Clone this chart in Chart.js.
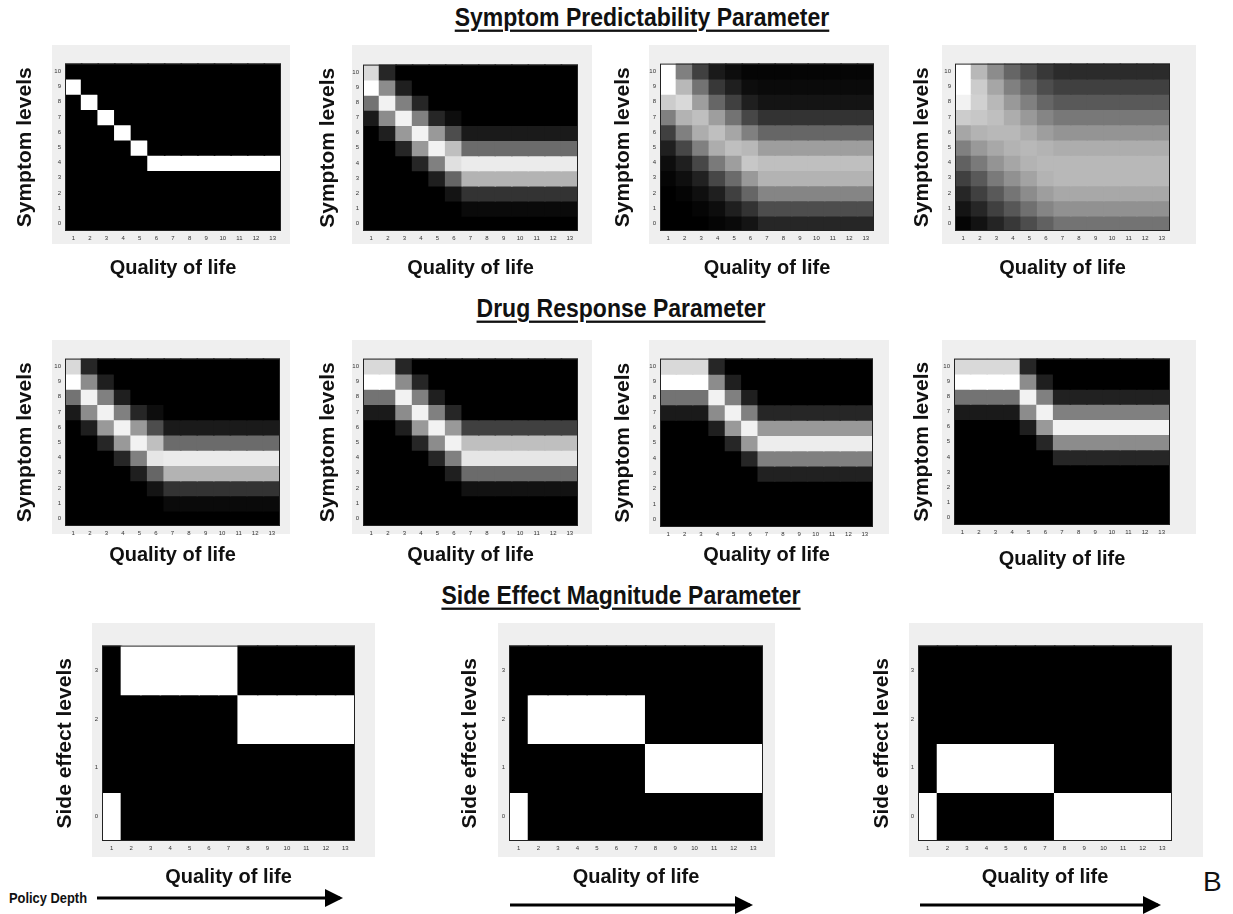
<!DOCTYPE html>
<html lang="en">
<head>
  <meta charset="UTF-8">
  <title>Policy depth heatmaps</title>
  <script src="https://cdn.jsdelivr.net/npm/chart.js"></script>
  <style>
    body { margin: 0; background: #fff; }
    #page { position: relative; width: 1233px; height: 914px; overflow: hidden; font-family: 'Liberation Sans', Arial, sans-serif; }
    .bg { position: absolute; background: #efefef; }
    .box { position: absolute; }
    .head { position: absolute; font-weight: bold; font-size: 23px; text-decoration: underline; text-decoration-thickness: 2px; text-underline-offset: 3px; transform: translateX(-50%) scaleY(1.15); white-space: nowrap; color: #111; }
    .note { position: absolute; font-weight: bold; font-size: 14px; color: #111; transform: scaleX(0.92) scaleY(1.1); transform-origin: left center; }
    .big { position: absolute; font-size: 28px; color: #111; }
    svg { position: absolute; left: 0; top: 0; }
  </style>
</head>
<body>
<div id="page">
  <div class="head" style="left:642px; top:4px;">Symptom Predictability Parameter</div>
  <div class="head" style="left:621px; top:295px;">Drug Response Parameter</div>
  <div class="head" style="left:621px; top:582px;">Side Effect Magnitude Parameter</div>
  <div class="note" style="left:9px; top:889px;">Policy Depth</div>
  <div class="big" style="left:1203px; top:866px;">B</div>
  <svg width="1233" height="914">
    <defs>
      <marker id="head" markerWidth="6" markerHeight="6" refX="5" refY="3" orient="auto" markerUnits="strokeWidth">
        <path d="M0,0 L6,3 L0,6 z" fill="#000"/>
      </marker>
    </defs>
    <line x1="97" y1="898" x2="340" y2="898" stroke="#000" stroke-width="3" marker-end="url(#head)"/>
    <line x1="510" y1="905" x2="750" y2="905" stroke="#000" stroke-width="3" marker-end="url(#head)"/>
    <line x1="920" y1="905" x2="1158" y2="905" stroke="#000" stroke-width="3" marker-end="url(#head)"/>
  </svg>
</div>

<script>
  // x categories and y levels
  const qolLabels = ['1', '2', '3', '4', '5', '6', '7', '8', '9', '10', '11', '12', '13'];
  const symptomLevels = [10, 9, 8, 7, 6, 5, 4, 3, 2, 1, 0];
  const sideLevels = [3, 2, 1, 0];

  // brightness (0 black .. 1 white), rows from top level down, 13 columns each
  const sp1 = [
    [0, 0, 0, 0, 0, 0, 0, 0, 0, 0, 0, 0, 0],
    [1, 0, 0, 0, 0, 0, 0, 0, 0, 0, 0, 0, 0],
    [0, 1, 0, 0, 0, 0, 0, 0, 0, 0, 0, 0, 0],
    [0, 0, 1, 0, 0, 0, 0, 0, 0, 0, 0, 0, 0],
    [0, 0, 0, 1, 0, 0, 0, 0, 0, 0, 0, 0, 0],
    [0, 0, 0, 0, 1, 0, 0, 0, 0, 0, 0, 0, 0],
    [0, 0, 0, 0, 0, 1, 1, 1, 1, 1, 1, 1, 1],
    [0, 0, 0, 0, 0, 0, 0, 0, 0, 0, 0, 0, 0],
    [0, 0, 0, 0, 0, 0, 0, 0, 0, 0, 0, 0, 0],
    [0, 0, 0, 0, 0, 0, 0, 0, 0, 0, 0, 0, 0],
    [0, 0, 0, 0, 0, 0, 0, 0, 0, 0, 0, 0, 0]
  ];
  const sp2 = [
    [.85, .15, 0, 0, 0, 0, 0, 0, 0, 0, 0, 0, 0],
    [1, .55, .12, 0, 0, 0, 0, 0, 0, 0, 0, 0, 0],
    [.45, .95, .5, .15, 0, 0, 0, 0, 0, 0, 0, 0, 0],
    [.1, .55, .95, .5, .15, .05, 0, 0, 0, 0, 0, 0, 0],
    [0, .12, .6, .95, .6, .3, .1, .1, .1, .1, .1, .1, .1],
    [0, 0, .15, .6, .95, .75, .42, .42, .42, .42, .42, .42, .42],
    [0, 0, 0, .15, .5, .88, .92, .92, .92, .92, .92, .92, .92],
    [0, 0, 0, 0, .12, .4, .7, .7, .7, .7, .7, .7, .7],
    [0, 0, 0, 0, 0, .08, .2, .2, .2, .2, .2, .2, .2],
    [0, 0, 0, 0, 0, 0, .04, .04, .04, .04, .04, .04, .04],
    [0, 0, 0, 0, 0, 0, 0, 0, 0, 0, 0, 0, 0]
  ];
  const sp3 = [
    [1, .5, .25, .1, .05, .02, .02, .02, .02, .02, .02, .02, .02],
    [1, .72, .45, .22, .12, .05, .04, .04, .04, .04, .04, .04, .04],
    [.8, .85, .62, .4, .25, .12, .08, .08, .08, .08, .08, .08, .08],
    [.5, .7, .75, .62, .45, .28, .2, .2, .2, .2, .2, .2, .2],
    [.25, .5, .68, .75, .65, .5, .4, .4, .4, .4, .4, .4, .4],
    [.12, .28, .5, .68, .75, .72, .62, .62, .62, .62, .62, .62, .62],
    [.05, .12, .28, .48, .62, .78, .75, .75, .75, .75, .75, .75, .75],
    [.02, .06, .13, .28, .42, .6, .7, .7, .7, .7, .7, .7, .7],
    [0, .02, .06, .12, .25, .4, .52, .52, .52, .52, .52, .52, .52],
    [0, 0, .02, .05, .12, .2, .3, .3, .3, .3, .3, .3, .3],
    [0, 0, 0, .02, .04, .08, .15, .15, .15, .15, .15, .15, .15]
  ];
  const sp4 = [
    [1, .72, .55, .4, .3, .22, .17, .17, .17, .17, .17, .17, .17],
    [1, .8, .65, .5, .4, .3, .25, .25, .25, .25, .25, .25, .25],
    [.95, .82, .72, .6, .5, .4, .35, .35, .35, .35, .35, .35, .35],
    [.8, .78, .75, .68, .6, .52, .47, .47, .47, .47, .47, .47, .47],
    [.65, .7, .72, .72, .68, .62, .58, .58, .58, .58, .58, .58, .58],
    [.5, .6, .66, .7, .72, .7, .68, .68, .68, .68, .68, .68, .68],
    [.38, .48, .58, .65, .7, .72, .72, .72, .72, .72, .72, .72, .72],
    [.25, .35, .48, .57, .64, .7, .72, .72, .72, .72, .72, .72, .72],
    [.15, .25, .35, .46, .55, .62, .66, .66, .66, .66, .66, .66, .66],
    [.08, .15, .25, .34, .44, .52, .57, .57, .57, .57, .57, .57, .57],
    [.02, .07, .14, .22, .3, .38, .45, .45, .45, .45, .45, .45, .45]
  ];
  const dr1 = [
    [.85, .15, 0, 0, 0, 0, 0, 0, 0, 0, 0, 0, 0],
    [1, .55, .12, 0, 0, 0, 0, 0, 0, 0, 0, 0, 0],
    [.45, .95, .5, .12, 0, 0, 0, 0, 0, 0, 0, 0, 0],
    [.1, .55, .95, .5, .15, .05, 0, 0, 0, 0, 0, 0, 0],
    [0, .12, .6, .95, .6, .3, .1, .1, .1, .1, .1, .1, .1],
    [0, 0, .15, .6, .95, .75, .42, .42, .42, .42, .42, .42, .42],
    [0, 0, 0, .15, .5, .9, .92, .92, .92, .92, .92, .92, .92],
    [0, 0, 0, 0, .12, .4, .7, .7, .7, .7, .7, .7, .7],
    [0, 0, 0, 0, 0, .08, .2, .2, .2, .2, .2, .2, .2],
    [0, 0, 0, 0, 0, 0, .04, .04, .04, .04, .04, .04, .04],
    [0, 0, 0, 0, 0, 0, 0, 0, 0, 0, 0, 0, 0]
  ];
  const dr2 = [
    [.85, .85, .15, 0, 0, 0, 0, 0, 0, 0, 0, 0, 0],
    [1, 1, .55, .15, 0, 0, 0, 0, 0, 0, 0, 0, 0],
    [.45, .45, .95, .5, .12, 0, 0, 0, 0, 0, 0, 0, 0],
    [.1, .1, .55, .95, .5, .15, 0, 0, 0, 0, 0, 0, 0],
    [0, 0, .12, .6, .95, .6, .25, .25, .25, .25, .25, .25, .25],
    [0, 0, 0, .15, .55, .95, .75, .75, .75, .75, .75, .75, .75],
    [0, 0, 0, 0, .15, .5, .9, .9, .9, .9, .9, .9, .9],
    [0, 0, 0, 0, 0, .12, .42, .42, .42, .42, .42, .42, .42],
    [0, 0, 0, 0, 0, 0, .07, .07, .07, .07, .07, .07, .07],
    [0, 0, 0, 0, 0, 0, 0, 0, 0, 0, 0, 0, 0],
    [0, 0, 0, 0, 0, 0, 0, 0, 0, 0, 0, 0, 0]
  ];
  const dr3 = [
    [.85, .85, .85, .15, 0, 0, 0, 0, 0, 0, 0, 0, 0],
    [1, 1, 1, .55, .12, 0, 0, 0, 0, 0, 0, 0, 0],
    [.45, .45, .45, .95, .5, .12, 0, 0, 0, 0, 0, 0, 0],
    [.1, .1, .1, .55, .95, .5, .15, .15, .15, .15, .15, .15, .15],
    [0, 0, 0, .12, .6, .95, .6, .6, .6, .6, .6, .6, .6],
    [0, 0, 0, 0, .15, .6, .93, .93, .93, .93, .93, .93, .93],
    [0, 0, 0, 0, 0, .15, .5, .5, .5, .5, .5, .5, .5],
    [0, 0, 0, 0, 0, 0, .13, .13, .13, .13, .13, .13, .13],
    [0, 0, 0, 0, 0, 0, 0, 0, 0, 0, 0, 0, 0],
    [0, 0, 0, 0, 0, 0, 0, 0, 0, 0, 0, 0, 0],
    [0, 0, 0, 0, 0, 0, 0, 0, 0, 0, 0, 0, 0]
  ];
  const dr4 = [
    [.85, .85, .85, .85, .15, 0, 0, 0, 0, 0, 0, 0, 0],
    [1, 1, 1, 1, .55, .12, 0, 0, 0, 0, 0, 0, 0],
    [.45, .45, .45, .45, .95, .5, .13, .13, .13, .13, .13, .13, .13],
    [.1, .1, .1, .1, .55, .95, .5, .5, .5, .5, .5, .5, .5],
    [0, 0, 0, 0, .12, .6, .95, .95, .95, .95, .95, .95, .95],
    [0, 0, 0, 0, 0, .15, .55, .55, .55, .55, .55, .55, .55],
    [0, 0, 0, 0, 0, 0, .15, .15, .15, .15, .15, .15, .15],
    [0, 0, 0, 0, 0, 0, 0, 0, 0, 0, 0, 0, 0],
    [0, 0, 0, 0, 0, 0, 0, 0, 0, 0, 0, 0, 0],
    [0, 0, 0, 0, 0, 0, 0, 0, 0, 0, 0, 0, 0],
    [0, 0, 0, 0, 0, 0, 0, 0, 0, 0, 0, 0, 0]
  ];
  const se1 = [
    [0, 1, 1, 1, 1, 1, 1, 0, 0, 0, 0, 0, 0],
    [0, 0, 0, 0, 0, 0, 0, 1, 1, 1, 1, 1, 1],
    [0, 0, 0, 0, 0, 0, 0, 0, 0, 0, 0, 0, 0],
    [1, 0, 0, 0, 0, 0, 0, 0, 0, 0, 0, 0, 0]
  ];
  const se2 = [
    [0, 0, 0, 0, 0, 0, 0, 0, 0, 0, 0, 0, 0],
    [0, 1, 1, 1, 1, 1, 1, 0, 0, 0, 0, 0, 0],
    [0, 0, 0, 0, 0, 0, 0, 1, 1, 1, 1, 1, 1],
    [1, 0, 0, 0, 0, 0, 0, 0, 0, 0, 0, 0, 0]
  ];
  const se3 = [
    [0, 0, 0, 0, 0, 0, 0, 0, 0, 0, 0, 0, 0],
    [0, 0, 0, 0, 0, 0, 0, 0, 0, 0, 0, 0, 0],
    [0, 1, 1, 1, 1, 1, 1, 0, 0, 0, 0, 0, 0],
    [1, 0, 0, 0, 0, 0, 0, 1, 1, 1, 1, 1, 1]
  ];

  // where each panel sits: plot box, y-title x, x-title y, grey backdrop
  const FONT = "'Liberation Sans', Arial, sans-serif";
  const panels = [
    { grid: sp1, levels: symptomLevels, ytitle: 'Symptom levels', l: 65, t: 60, r: 281, b: 231, yt: 25, xt: 268, bg: [52, 45, 290, 244] },
    { grid: sp2, levels: symptomLevels, ytitle: 'Symptom levels', l: 363, t: 61, r: 578, b: 231, yt: 328, xt: 268, bg: [352, 45, 592, 244] },
    { grid: sp3, levels: symptomLevels, ytitle: 'Symptom levels', l: 660, t: 60, r: 874, b: 231, yt: 623, xt: 268, bg: [649, 45, 889, 244] },
    { grid: sp4, levels: symptomLevels, ytitle: 'Symptom levels', l: 955, t: 60, r: 1170, b: 231, yt: 922, xt: 268, bg: [942, 45, 1196, 244] },
    { grid: dr1, levels: symptomLevels, ytitle: 'Symptom levels', l: 65, t: 355, r: 280, b: 526, yt: 25, xt: 555, bg: [52, 340, 290, 534] },
    { grid: dr2, levels: symptomLevels, ytitle: 'Symptom levels', l: 363, t: 355, r: 578, b: 526, yt: 328, xt: 555, bg: [352, 340, 592, 534] },
    { grid: dr3, levels: symptomLevels, ytitle: 'Symptom levels', l: 660, t: 355, r: 873, b: 527, yt: 623, xt: 555, bg: [649, 340, 889, 534] },
    { grid: dr4, levels: symptomLevels, ytitle: 'Symptom levels', l: 954, t: 355, r: 1170, b: 525, yt: 922, xt: 559, bg: [942, 340, 1196, 534] },
    { grid: se1, levels: sideLevels, ytitle: 'Side effect levels', l: 102, t: 642, r: 355, b: 841, yt: 65, xt: 877, bg: [92, 623, 375, 857] },
    { grid: se2, levels: sideLevels, ytitle: 'Side effect levels', l: 509, t: 642, r: 763, b: 841, yt: 470, xt: 877, bg: [498, 623, 775, 857] },
    { grid: se3, levels: sideLevels, ytitle: 'Side effect levels', l: 918, t: 642, r: 1172, b: 841, yt: 882, xt: 877, bg: [909, 623, 1203, 857] }
  ];

  const TITLE_SIZE = 20;
  const PAD = 4;

  function gray(v) {
    const c = Math.round(v * 255);
    return `rgb(${c},${c},${c})`;
  }

  const frame = {
    id: 'frame',
    afterDatasetsDraw(chart) {
      const a = chart.chartArea;
      const ctx = chart.ctx;
      ctx.save();
      ctx.strokeStyle = '#222';
      ctx.lineWidth = 1;
      ctx.strokeRect(a.left + 0.5, a.top + 0.5, a.right - a.left - 1, a.bottom - a.top - 1);
      ctx.restore();
    }
  };

  function makePanel(p) {
    const page = document.getElementById('page');
    const bg = document.createElement('div');
    bg.className = 'bg';
    bg.style.left = p.bg[0] + 'px';
    bg.style.top = p.bg[1] + 'px';
    bg.style.width = (p.bg[2] - p.bg[0]) + 'px';
    bg.style.height = (p.bg[3] - p.bg[1]) + 'px';
    page.appendChild(bg);

    const half = TITLE_SIZE * 0.6;
    const left = p.yt - half;
    const top = p.t - PAD;
    const width = p.r + PAD - left;
    const height = p.xt + half - top;
    const box = document.createElement('div');
    box.className = 'box';
    box.style.left = left + 'px';
    box.style.top = top + 'px';
    const canvas = document.createElement('canvas');
    canvas.width = width;
    canvas.height = height;
    box.appendChild(canvas);
    page.appendChild(box);

    const yWidth = p.l - left;
    const xHeight = p.xt + half - p.b;
    const maxLevel = p.levels[0];

    const datasets = p.levels.map((lv, row) => ({
      label: 'level ' + lv,
      data: qolLabels.map(() => [lv - 0.5, lv + 0.5]),
      backgroundColor: p.grid[row].map(gray),
      borderWidth: 0,
      inflateAmount: 0.8,
      barPercentage: 1,
      categoryPercentage: 1,
      grouped: false
    }));

    new Chart(canvas.getContext('2d'), {
      type: 'bar',
      data: { labels: qolLabels, datasets },
      options: {
        responsive: false,
        animation: false,
        devicePixelRatio: 1,
        layout: { padding: { top: PAD, right: PAD, left: 0, bottom: 0 } },
        plugins: { legend: { display: false }, tooltip: { enabled: false } },
        scales: {
          x: {
            type: 'category',
            grid: { display: false, drawTicks: false },
            border: { display: false },
            ticks: { color: '#333', font: { size: 6 }, padding: 4, autoSkip: false, maxRotation: 0 },
            title: { display: true, text: 'Quality of life', color: '#111', padding: 0, font: { family: FONT, size: TITLE_SIZE, weight: 'bold' } },
            afterFit: s => { s.height = xHeight; }
          },
          y: {
            type: 'linear',
            min: -0.5,
            max: maxLevel + 0.5,
            grid: { display: false, drawTicks: false },
            border: { display: false },
            ticks: { color: '#333', font: { size: 6 }, padding: 4 },
            afterBuildTicks: s => { s.ticks = p.levels.slice().reverse().map(v => ({ value: v })); },
            title: { display: true, text: p.ytitle, color: '#111', padding: 0, font: { family: FONT, size: TITLE_SIZE + 1, weight: 'bold' } },
            afterFit: s => { s.width = yWidth; }
          }
        }
      },
      plugins: [frame]
    });
  }

  panels.forEach(makePanel);
</script>
</body>
</html>
